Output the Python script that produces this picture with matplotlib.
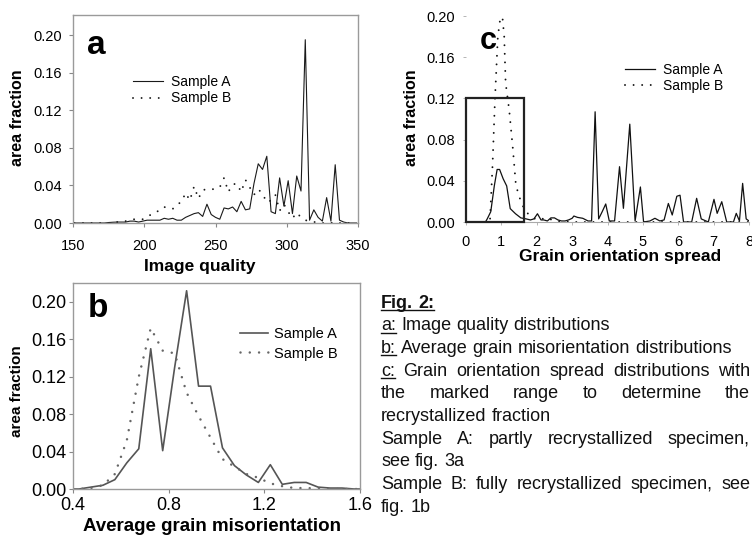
import matplotlib
matplotlib.use('Agg')
import matplotlib.pyplot as plt
from matplotlib.lines import Line2D
from matplotlib.patches import Rectangle

plt.rcParams['font.family'] = ['Liberation Sans', 'DejaVu Sans']

# ---------------- data ----------------
# (a) Image quality distributions
iq_x = [151, 154, 157, 160, 163, 166, 169, 172, 175, 178, 181, 184, 187, 190, 193, 196,
        199, 202, 205, 208, 211, 214, 217, 220, 223, 226, 229, 232, 235, 238, 241, 244,
        247, 250, 253, 256, 259, 262, 265, 268, 271, 274, 277, 280, 283, 286, 289, 292,
        295, 298, 301, 304, 307, 310, 313, 316, 319, 322, 325, 328, 331, 334, 337, 340,
        343, 346, 349]
iq_A = [0, 0, 0, 0, 0, 0, 0, 0, 0.0005, 0.0008, 0.001, 0.001, 0.001, 0.002, 0.002, 0.001,
        0.002, 0.003, 0.003, 0.003, 0.003, 0.005, 0.004, 0.005, 0.003, 0.003, 0.006, 0.008, 0.010, 0.011, 0.007, 0.020,
        0.009, 0.006, 0.004, 0.016, 0.015, 0.017, 0.012, 0.023, 0.014, 0.015, 0.042, 0.063, 0.057, 0.071, 0.012, 0.010,
        0.048, 0.018, 0.045, 0.010, 0.050, 0.034, 0.195, 0.003, 0.014, 0.006, 0.002, 0.027, 0.002, 0.062, 0.003, 0.001,
        0, 0, 0]
iq_B = [0, 0, 0, 0, 0, 0, 0, 0, 0, 0, 0.001, 0.001, 0.002, 0.003, 0.004, 0.004,
        0.004, 0.007, 0.009, 0.012, 0.013, 0.017, 0.016, 0.015, 0.020, 0.022, 0.032, 0.024, 0.039, 0.026, 0.035, 0.036,
        0.036, 0.036, 0.038, 0.048, 0.033, 0.041, 0.042, 0.033, 0.046, 0.038, 0.030, 0.036, 0.031, 0.022, 0.024, 0.030,
        0.013, 0.020, 0.012, 0.005, 0.011, 0.006, 0.003, 0.002, 0.001, 0.001, 0, 0, 0, 0.001, 0, 0,
        0, 0, 0]

# (b) Average grain misorientation distributions
mis_x = [0.40, 0.425, 0.475, 0.525, 0.575, 0.625, 0.675, 0.725, 0.775, 0.825, 0.875, 0.925, 0.975,
         1.025, 1.075, 1.125, 1.175, 1.225, 1.275, 1.325, 1.375, 1.425, 1.475, 1.525, 1.575, 1.60]
mis_A = [0, 0, 0.002, 0.004, 0.010, 0.028, 0.043, 0.150, 0.041, 0.130, 0.212, 0.110, 0.110,
         0.044, 0.025, 0.015, 0.007, 0.026, 0.005, 0.007, 0.007, 0.002, 0.001, 0.001, 0, 0]
mis_B = [0, 0, 0.001, 0.004, 0.016, 0.052, 0.120, 0.172, 0.148, 0.145, 0.103, 0.078, 0.055,
         0.032, 0.024, 0.016, 0.012, 0.006, 0.003, 0.001, 0.001, 0.0005, 0, 0, 0, 0]

# (c) Grain orientation spread distributions
gos_xA = [0.0, 0.3, 0.55, 0.6, 0.7, 0.8, 0.88, 0.95, 1.05, 1.15, 1.25, 1.4, 1.55, 1.7, 1.82, 1.92,
          2.02, 2.12, 2.2, 2.3, 2.4, 2.5, 2.6, 2.7, 2.8, 2.9, 3.0, 3.05, 3.15, 3.3, 3.45, 3.55,
          3.65, 3.75, 3.85, 3.95, 4.05, 4.2, 4.34, 4.45, 4.63, 4.78, 4.93, 5.02, 5.2, 5.34,
          5.48, 5.6, 5.72, 5.83, 5.96, 6.05, 6.15, 6.38, 6.52, 6.65, 6.85, 7.01, 7.1, 7.23,
          7.37, 7.56, 7.64, 7.73, 7.82, 7.92, 8.0]
gos_A = [0, 0, 0, 0.003, 0.010, 0.035, 0.051, 0.051, 0.042, 0.035, 0.013, 0.008, 0.004, 0.003, 0.002, 0.003,
         0.008, 0.002, 0.002, 0.001, 0.004, 0.004, 0.002, 0.001, 0.001, 0.002, 0.0036, 0.0058, 0.0045, 0.0036, 0.001, 0.001,
         0.107, 0.003, 0.010, 0.0175, 0.001, 0.001, 0.0537, 0.0133, 0.095, 0.001, 0.034, 0, 0.001, 0.0036,
         0.001, 0.002, 0.018, 0.0068, 0.025, 0.026, 0, 0, 0.023, 0.003, 0, 0.022, 0.0084, 0.0197,
         0, 0, 0.0084, 0.001, 0.0375, 0.003, 0.001]
gos_xB = [0.0, 0.6, 0.68, 0.75, 0.82, 0.9, 0.97, 1.03, 1.08, 1.12, 1.22, 1.32, 1.41, 1.5, 1.6,
          1.72, 1.87, 2.0, 2.3, 2.5, 3.0, 8.0]
gos_B = [0, 0, 0.003, 0.055, 0.120, 0.180, 0.198, 0.199, 0.180, 0.135, 0.109, 0.073, 0.036, 0.025, 0.016,
         0.009, 0.005, 0.002, 0.004, 0.001, 0, 0]
marked_range = (0.0, 1.64)
marked_top = 0.12

series_names = ['Sample A', 'Sample B']

caption_lines = [
    ([("Fig. 2:", 'bold', True)], False),
    ([("a:", 'normal', True), ("Image quality distributions", 'normal', False)], False),
    ([("b:", 'normal', True), ("Average grain misorientation distributions", 'normal', False)], False),
    ([("c:", 'normal', True), ("Grain orientation spread distributions with", 'normal', False)], True),
    ([("the marked range to determine the", 'normal', False)], True),
    ([("recrystallized fraction", 'normal', False)], False),
    ([("Sample A: partly recrystallized specimen,", 'normal', False)], True),
    ([("see fig. 3a", 'normal', False)], False),
    ([("Sample B: fully recrystallized specimen, see", 'normal', False)], True),
    ([("fig. 1b", 'normal', False)], False),
]

# ---------------- figure ----------------
W, H = 752, 538
fig = plt.figure(figsize=(W / 100, H / 100), dpi=100)


def ax_px(l, t, r, b):
    return fig.add_axes([l / W, 1 - b / H, (r - l) / W, (b - t) / H])


FRAME = '#9a9a9a'
DOT_AC = (0, (0.01, 4.4))
DOT_B = (0, (0.01, 3.7))

# ---- panel a ----
axa = ax_px(73, 15, 358, 223)
axa.plot(iq_x, iq_A, color='#1a1a1a', lw=0.8, label=series_names[0])
axa.plot(iq_x, iq_B, color='#1a1a1a', lw=1.4, ls=DOT_AC, dash_capstyle='round', label=series_names[1])
axa.set_xlim(150, 350)
axa.set_ylim(0, 0.2213)
axa.set_xticks([150, 200, 250, 300, 350])
axa.set_yticks([0, 0.04, 0.08, 0.12, 0.16, 0.20])
axa.set_yticklabels(['0.00', '0.04', '0.08', '0.12', '0.16', '0.20'])
for s in axa.spines.values():
    s.set_color(FRAME)
    s.set_linewidth(1.0)
axa.tick_params(axis='both', direction='out', length=3, width=0.8, color='#888', labelsize=10.5)
axa.tick_params(axis='x', pad=8.5)
axa.tick_params(axis='y', pad=5)
axa.set_xlabel('Image quality', fontsize=12.5, fontweight='bold', va='center')
axa.xaxis.set_label_coords(0.4456, -0.2115)
axa.set_ylabel('area fraction', fontsize=11.5, fontweight='bold', va='center')
axa.yaxis.set_label_coords(-0.193, 0.505)
axa.text(0.049, 0.8125, 'a', transform=axa.transAxes, fontsize=24, fontweight='bold',
         ha='left', va='baseline')
axa.legend(loc='center left', bbox_to_anchor=(0.2105, 0.6394), frameon=False, fontsize=10,
           handlelength=2.16, handletextpad=0.58, labelspacing=0.2, borderpad=0, borderaxespad=0)

# ---- panel b ----
axb = ax_px(73, 283, 360, 489)
axb.plot(mis_x, mis_A, color='#555555', lw=1.2, label=series_names[0])
axb.plot(mis_x, mis_B, color='#666666', lw=1.8, ls=DOT_B, dash_capstyle='round',
         label=series_names[1])
axb.set_xlim(0.4, 1.6)
axb.set_ylim(0, 0.2203)
axb.set_xticks([0.4, 0.8, 1.2, 1.6])
axb.set_xticklabels(['0.4', '0.8', '1.2', '1.6'])
axb.set_yticks([0, 0.04, 0.08, 0.12, 0.16, 0.20])
axb.set_yticklabels(['0.00', '0.04', '0.08', '0.12', '0.16', '0.20'])
for s in axb.spines.values():
    s.set_color(FRAME)
    s.set_linewidth(1.0)
axb.tick_params(axis='both', direction='out', length=3, width=0.8, color='#888', labelsize=13)
axb.tick_params(axis='x', pad=3)
axb.tick_params(axis='y', pad=1.5)
axb.set_xlabel('Average grain misorientation', fontsize=13.5, fontweight='bold', va='center')
axb.xaxis.set_label_coords(0.486, -0.184)
axb.set_ylabel('area fraction', fontsize=11, fontweight='bold', va='center')
axb.yaxis.set_label_coords(-0.195, 0.476)
axb.text(0.052, 0.835, 'b', transform=axb.transAxes, fontsize=24, fontweight='bold',
         ha='left', va='baseline')
axb.legend(loc='center left', bbox_to_anchor=(0.582, 0.704), frameon=False, fontsize=10.5,
           handlelength=1.9, handletextpad=0.41, labelspacing=0.35, borderpad=0, borderaxespad=0)

# ---- panel c ----
axc = ax_px(466, 5.7, 749, 222)
axc.plot(gos_xA, gos_A, color='#111111', lw=0.9, label=series_names[0])
axc.plot(gos_xB, gos_B, color='#111111', lw=1.4, ls=DOT_AC, dash_capstyle='round', label=series_names[1])
axc.add_patch(Rectangle((marked_range[0], 0), marked_range[1] - marked_range[0], marked_top,
                        fill=False, ec='#222222', lw=1.6, clip_on=False, zorder=3))
axc.set_xlim(0, 8)
axc.set_ylim(0, 0.21)
axc.set_xticks(list(range(0, 9)))
axc.set_yticks([0, 0.04, 0.08, 0.12, 0.16, 0.20])
axc.set_yticklabels(['0.00', '0.04', '0.08', '0.12', '0.16', '0.20'])
for k in ['left', 'top', 'right']:
    axc.spines[k].set_visible(False)
axc.spines['bottom'].set_color('#aaaaaa')
axc.spines['bottom'].set_linewidth(0.8)
axc.tick_params(axis='both', direction='out', length=2, width=0.6, color='#aaa', labelsize=10.5)
axc.tick_params(axis='x', pad=7)
axc.tick_params(axis='y', pad=6)
axc.set_xlabel('Grain orientation spread', fontsize=12.5, fontweight='bold', va='center')
axc.xaxis.set_label_coords(0.544, -0.158)
axc.set_ylabel('area fraction', fontsize=11.5, fontweight='bold', va='center')
axc.yaxis.set_label_coords(-0.191, 0.481)
axc.text(0.0495, 0.80, 'c', transform=axc.transAxes, fontsize=22, fontweight='bold',
         ha='left', va='baseline')
axc.legend(loc='center left', bbox_to_anchor=(0.562, 0.666), frameon=False, fontsize=10,
           handlelength=2.16, handletextpad=0.58, labelspacing=0.1, borderpad=0, borderaxespad=0)

# ---------------- caption (justified) ----------------
CAP_FS = 13
cap_left, cap_right = 381, 750
cap_base0, cap_step = 307.5, 22.7
fig.canvas.draw()
rend = fig.canvas.get_renderer()
space_px = CAP_FS * 0.278 * 100 / 72
for i, (segs, justify) in enumerate(caption_lines):
    y = cap_base0 + i * cap_step
    words = []
    for si, (txt, wt, ul) in enumerate(segs):
        for w in txt.split(' '):
            words.append((w, wt, ul, si))
    arts = [fig.text(0, 1 - y / H, w[0], fontsize=CAP_FS, fontweight=w[1], va='baseline',
                     ha='left', color='#111111') for w in words]
    widths = [a.get_window_extent(renderer=rend).width for a in arts]
    if justify and len(words) > 1:
        gap = (cap_right - cap_left - sum(widths)) / (len(words) - 1)
    else:
        gap = space_px
    x = cap_left
    ul_ext = {}
    for a, w, wd in zip(arts, words, widths):
        a.set_x(x / W)
        if w[2]:
            s0, _ = ul_ext.get(w[3], (x, x))
            ul_ext[w[3]] = (s0, x + wd)
        x += wd + gap
    for s0, e0 in ul_ext.values():
        fig.add_artist(Line2D([s0 / W, e0 / W], [1 - (y + 2.5) / H] * 2,
                              transform=fig.transFigure, color='#111111', lw=1.0))

fig.savefig('out.png', dpi=100)
